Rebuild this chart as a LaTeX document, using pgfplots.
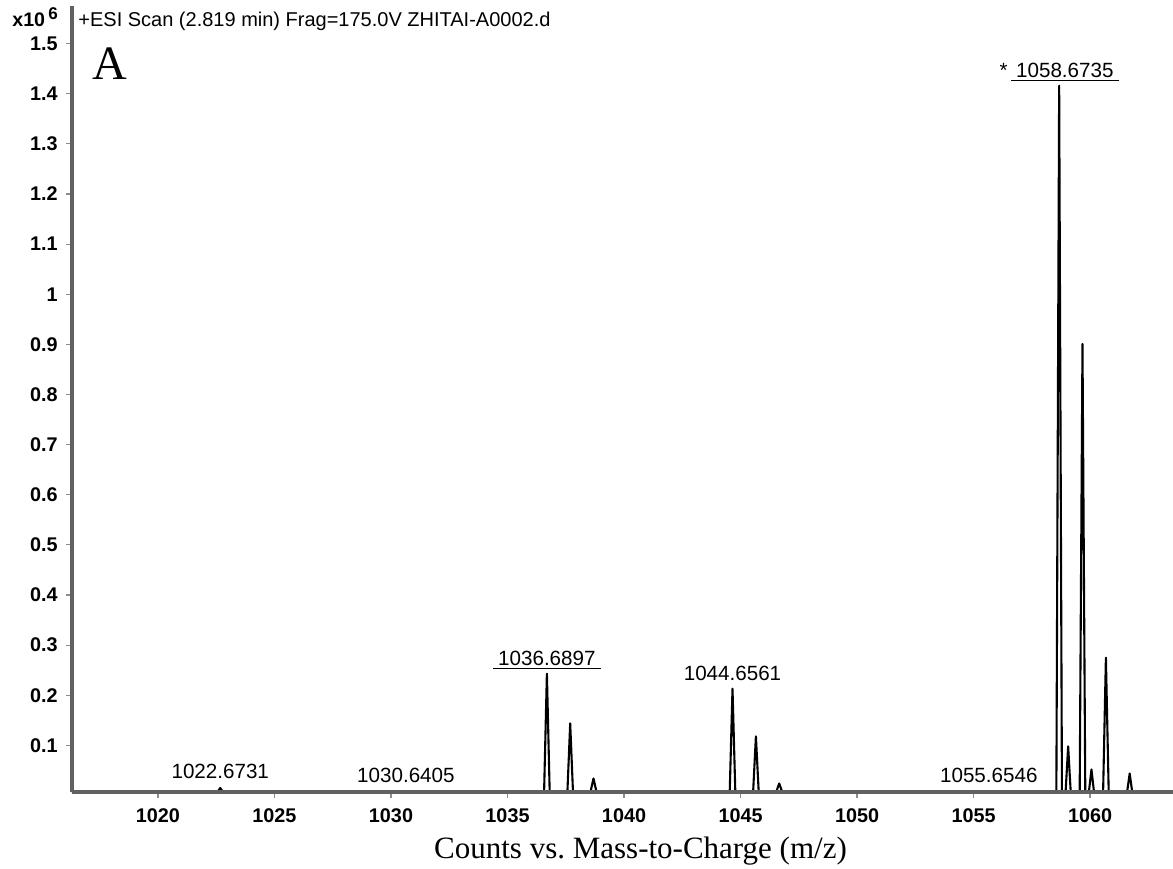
\documentclass[border=0pt]{standalone}
\usepackage{fontspec}
\setmainfont{Liberation Sans}
\newfontfamily\serif{Liberation Serif}
\usepackage{pgfplots}
\pgfplotsset{compat=1.18}
\frenchspacing
\begin{document}
\begin{tikzpicture}
\begin{axis}[
 scale only axis, width=550.5pt, height=393pt,
 xmin=1016.31, xmax=1063.56, ymin=0.007, ymax=1.575,
 axis x line=bottom, axis y line=left,
 axis line style={-, line width=2.3pt, black!62},
 axis on top, clip=false,
 xtick={1020,1025,1030,1035,1040,1045,1050,1055,1060},
 ytick={0.1,0.2,0.3,0.4,0.5,0.6,0.7,0.8,0.9,1,1.1,1.2,1.3,1.4,1.5},
 tick align=outside, major tick length=3pt,
 tick style={black!45, line width=0.6pt},
 ticklabel style={font=\bfseries\fontsize{9.9}{11}\selectfont, inner sep=0pt},
 /pgf/number format/assume math mode=true,
 xticklabel style={/pgf/number format/1000 sep={}},
 yticklabel style={/pgf/number format/fixed, /pgf/number format/precision=1},
 xticklabel shift=5pt, yticklabel shift=4pt,
]
\addplot[black, line width=1.05pt, line join=round] coordinates {
(1016.31,0.007)
(1022.55,0.007)(1022.673,0.015)(1022.79,0.007)
(1036.57,0.007)(1036.690,0.243)(1036.81,0.007)
(1037.57,0.007)(1037.690,0.144)(1037.81,0.007)
(1038.56,0.007)(1038.690,0.034)(1038.82,0.007)
(1044.536,0.007)(1044.656,0.213)(1044.776,0.007)
(1045.54,0.007)(1045.660,0.118)(1045.78,0.007)
(1046.53,0.007)(1046.660,0.024)(1046.79,0.007)
(1058.554,0.007)(1058.674,1.416)(1058.794,0.007)
(1058.95,0.007)(1059.060,0.098)(1059.17,0.007)
(1059.555,0.007)(1059.675,0.901)(1059.795,0.007)
(1059.95,0.007)(1060.060,0.052)(1060.17,0.007)
(1060.56,0.007)(1060.680,0.275)(1060.80,0.007)
(1061.59,0.007)(1061.700,0.044)(1061.81,0.007)
(1063.56,0.007)
};
\begin{scope}[every node/.style={anchor=base, inner sep=0pt, font=\fontsize{10.3}{11}\selectfont}]
\node at (axis cs:1022.6731,0.034) {1022.6731};
\node at (axis cs:1030.6405,0.026) {1030.6405};
\node at (axis cs:1036.6897,0.259) {\underline{\hspace{2.5pt}1036.6897\hspace{2.5pt}}};
\node at (axis cs:1044.6561,0.229) {1044.6561};
\node at (axis cs:1055.6546,0.026) {1055.6546};
\node at (axis cs:1058.6735,1.432) {*\,\underline{\hspace{2.5pt}1058.6735\hspace{2.5pt}}};
\end{scope}
\node[anchor=base west, inner sep=0pt, font=\fontsize{10}{11}\selectfont] at ([xshift=3pt,yshift=-10.5pt]rel axis cs:0,1) {+ESI Scan (2.819 min) Frag=175.0V ZHITAI-A0002.d};
\node[anchor=base west, inner sep=0pt, font=\bfseries\fontsize{9.8}{11}\selectfont] at ([xshift=-30pt,yshift=-10.5pt]rel axis cs:0,1) {x10\,\raisebox{3.5pt}{\fontsize{8.5}{9}\selectfont 6}};
\node[anchor=base west, inner sep=0pt, font=\serif\fontsize{24}{26}\selectfont] at ([xshift=10pt,yshift=-37pt]rel axis cs:0,1) {A};
\node[anchor=base, inner sep=0pt, font=\serif\fontsize{15.5}{17}\selectfont] at ([xshift=9pt,yshift=-33pt]rel axis cs:0.5,0) {Counts vs. Mass-to-Charge (m/z)};
\end{axis}
\pgfresetboundingbox
\path ([xshift=-36pt,yshift=-38pt]current axis.south west) rectangle ([yshift=3pt]current axis.north east);
\end{tikzpicture}
\end{document}
